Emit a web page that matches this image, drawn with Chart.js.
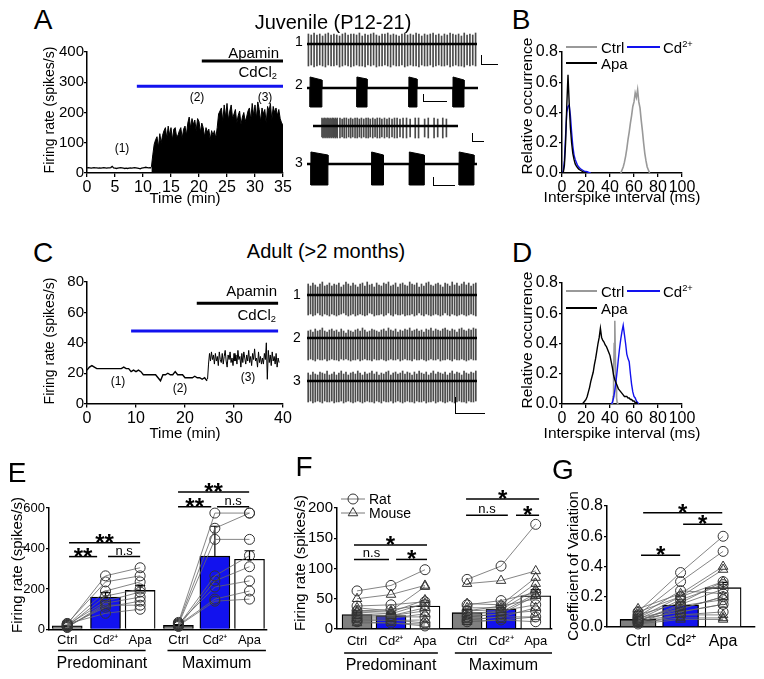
<!DOCTYPE html>
<html>
<head>
<meta charset="utf-8">
<title>Firing pattern after CdCl2 and apamin</title>
<script src="https://cdn.jsdelivr.net/npm/chart.js@4.4.1/dist/chart.umd.min.js"></script>
<style>
  body { margin: 0; background: #fff; }
  #fig { position: relative; width: 764px; height: 679px; overflow: hidden; font-family: "Liberation Sans", Arial, sans-serif; color: #000; }
  #fig canvas { position: absolute; }
  .t { position: absolute; white-space: nowrap; line-height: 1; }
  .t sub, .t sup { font-size: 0.62em; line-height: 0; }
  .t sub { vertical-align: -0.3em; }
  .t sup { vertical-align: 0.6em; }
  .sb { position: absolute; border-left: 1.5px solid #000; border-bottom: 1.5px solid #000; box-sizing: border-box; }
  .lg { position: absolute; height: 2px; }
</style>
</head>
<body>
<div id="fig"></div>
<script>
/* Juvenile vs adult firing: rate time courses, traces, ISI histograms, summary bars */

// ---- A: juvenile firing rate (spikes/s), 0.25 min bins
const aStep = 0.25;
const aBaseStart = 0;
const aBase = [
  17, 18, 17, 16, 17, 18, 17, 17, 16, 17,
  16, 17, 18, 17, 16, 17, 17, 18, 22, 17,
  16, 15, 16, 17, 18, 17, 16, 15, 16, 15,
  16, 17, 16, 17, 18, 17, 16, 15, 14, 16,
  17, 18, 19, 18, 17, 18, 17];
const aActStart = 11.5;
const aActive = [
  20, 60, 95, 110, 120, 85, 130, 100, 125, 140,
  150, 115, 155, 125, 150, 110, 145, 150, 120, 125,
  140, 150, 115, 145, 155, 125, 165, 185, 150, 180,
  160, 175, 140, 180, 170, 135, 165, 150, 120, 150,
  135, 145, 110, 140, 125, 140, 115, 150, 195, 205,
  215, 170, 225, 185, 230, 175, 205, 225, 180, 195,
  210, 165, 190, 205, 160, 185, 200, 170, 185, 205,
  215, 175, 230, 190, 225, 180, 235, 210, 170, 215,
  195, 210, 165, 220, 205, 230, 175, 220, 200, 215,
  190, 210, 180, 165, 160];
const aDrugs = [[20.5, 35, 370, '#000'], [8.9, 35, 287, '#1212ee']]; // [from, to, level, colour]

// ---- A: example traces (arbitrary mV around baseline)
const a1Top = [
  10, 9, 11, 9, 10, 8, 10, 11, 9, 10,
  9, 8, 10, 11, 9, 10, 10, 9, 11, 8,
  10, 9, 10, 11, 9, 8, 10, 10, 11, 9,
  10, 9, 8, 10, 11, 9, 10, 9, 11, 10,
  8, 10, 9, 10, 11, 9, 10, 8, 10, 9,
  11, 10, 9, 10, 8, 11, 9, 10, 9, 11];
const a1Bot = [
  -22, -21, -23, -22, -21, -22, -23, -21, -22, -22,
  -21, -23, -22, -21, -22, -23, -22, -21, -22, -22,
  -23, -21, -22, -21, -23, -22, -22, -21, -22, -23,
  -21, -22, -22, -21, -23, -22, -21, -22, -22, -23,
  -21, -22, -22, -21, -23, -22, -21, -22, -22, -21,
  -23, -22, -21, -22, -22, -23, -21, -22, -21, -22];
// bursts: [start, end, top at start, top at end, bottom] on a 0-100 time base
const a2Bursts = [[1.8, 8.7, 11, 8, -19], [29.2, 35.1, 11, 9, -19], [59.6, 64.3, 11, 9, -19], [85.4, 91.8, 11, 8, -19]];
const a3Bursts = [[2.3, 12.3, 12, 9, -21], [38, 45, 12, 9, -21], [60.2, 69, 12, 9, -21], [89.5, 98.2, 12, 9, -21]];
const expTimes = [
  6.2, 6.9, 7.6, 8.3, 9.0, 9.7, 10.4, 11.1, 11.8, 12.5, 13.2, 13.9, 14.6, 15.3, 16.0, 16.7,
  18.6, 20.1, 21.5, 23.0, 24.6, 26.0, 27.4, 29.0, 30.5, 32.0, 33.4, 35.0, 36.6, 38.1,
  39.5, 41.2, 42.8, 44.3, 46.0, 47.5, 49.3, 51.0, 52.6, 54.5, 56.2, 58.0, 60.0, 62.1,
  64.5, 67.0, 70.5, 72.8, 77.0, 79.5, 83.5, 86.0, 89.5, 92.0];
const expTop = [
  8, 7, 8, 8, 7, 8, 8, 7, 8, 7, 8, 8, 7, 8, 7, 8,
  8, 7, 8, 8, 7, 8, 7, 8, 8, 7, 8, 7, 8, 8, 7, 8, 7, 8, 8, 7, 8, 7, 8, 7, 8, 8, 7, 8,
  8, 7, 8, 8, 7, 8, 8, 7, 8, 7];
const expBot = [
  -11, -12, -11, -12, -11, -12, -11, -12, -11, -12, -11, -12, -11, -12, -11, -12,
  -12, -11, -12, -12, -11, -12, -11, -12, -12, -11, -12, -11, -12, -12, -11, -12, -11, -12, -12, -11, -12, -11, -12, -11, -12, -12, -11, -12,
  -12, -11, -12, -12, -11, -12, -12, -11, -12, -11];

// ---- B: juvenile ISI histograms (1 ms bins)
const bCtrlStart = 49;
const bCtrl = [0, 0.02, 0.04, 0.07, 0.11, 0.16, 0.22, 0.27, 0.33, 0.38, 0.44, 0.47, 0.53, 0.5, 0.55, 0.47, 0.43, 0.35, 0.28, 0.2, 0.13, 0.08, 0.04, 0.02, 0];
const bCdStart = 0;
const bCd = [0, 0.01, 0.08, 0.25, 0.4, 0.44, 0.45, 0.38, 0.27, 0.18, 0.12, 0.09, 0.07, 0.05, 0.04, 0.03, 0.025, 0.02, 0.015, 0.01, 0.01, 0.008, 0.005, 0.003, 0];
const bApaStart = 0;
const bApa = [0, 0, 0.05, 0.2, 0.45, 0.65, 0.46, 0.3, 0.2, 0.13, 0.09, 0.06, 0.045, 0.035, 0.025, 0.02, 0.015, 0.01, 0.006, 0.003, 0];

// ---- C: adult firing rate (spikes/s)
const cSlowStart = 0, cSlowStep = 0.5;
const cSlow = [
  22, 24, 25, 24, 23, 23, 23, 23, 23, 23,
  23, 23, 23, 23, 23, 24, 23, 23, 21, 22,
  21, 22, 21, 19, 19, 19, 19, 19, 19, 17,
  15, 19, 19, 20, 19, 19, 21, 19, 19, 19,
  17, 17, 17, 17, 18, 17, 17, 16, 17, 15];
const cFastStart = 24.6, cFastStep = 0.2;
const cFast = [
  16, 26, 33, 28, 34, 29, 32, 26, 33, 28,
  31, 25, 34, 29, 27, 33, 26, 31, 35, 28,
  24, 32, 29, 34, 27, 30, 25, 33, 28, 32,
  26, 35, 29, 31, 24, 33, 27, 34, 30, 26,
  32, 28, 35, 27, 31, 25, 33, 29, 36, 28,
  30, 24, 34, 27, 31, 26, 30, 26, 33, 29,
  40, 16, 35, 27, 32, 25, 34, 28, 31, 26,
  33, 24, 30, 27];
const cDrugs = [[22.4, 39, 66, '#000'], [9, 39, 47.8, '#1212ee']];

// ---- C: example traces
const c1Top = [
  11, 9, 12, 10, 8, 11, 13, 9, 10, 12, 9, 11, 10, 12, 8, 10, 13, 11, 9, 12,
  10, 8, 11, 12, 9, 13, 10, 11, 8, 12, 10, 9, 12, 11, 13, 9, 10, 12, 8, 11,
  12, 10, 9, 13, 11, 10, 12, 8, 11, 9, 12, 13, 10, 9, 11, 12, 10, 8, 12, 11,
  9, 13, 10, 12, 9, 11, 13, 10, 12, 9, 11, 12];
const c1Bot = [
  -20, -19, -21, -20, -18, -20, -21, -19, -20, -21, -19, -20, -21, -20, -19, -18, -20, -21, -20, -19,
  -21, -20, -19, -20, -21, -20, -18, -19, -21, -20, -20, -19, -21, -20, -18, -20, -21, -19, -20, -20,
  -19, -21, -20, -20, -19, -21, -20, -18, -20, -21, -19, -20, -21, -20, -19, -20, -21, -20, -18, -20,
  -21, -19, -20, -21, -20, -19, -20, -21, -20, -19, -20, -21];
const c2Top = [
  7, 8, 6, 9, 7, 8, 10, 7, 6, 8, 9, 7, 8, 6, 9, 7, 5, 8, 7, 6,
  8, 9, 7, 10, 8, 6, 7, 9, 8, 7, 6, 8, 9, 7, 10, 8, 7, 9, 6, 8,
  7, 9, 8, 10, 7, 8, 9, 7, 8, 6, 9, 8, 10, 7, 9, 8, 7, 9, 10, 8,
  7, 9, 8, 6, 9, 10, 8, 7, 9, 8, 10, 9];
const c2Bot = [
  -22, -21, -22, -23, -21, -22, -22, -21, -23, -22, -21, -22, -22, -23, -21, -22, -21, -22, -23, -22,
  -22, -21, -23, -22, -21, -22, -22, -23, -21, -22, -22, -21, -22, -23, -22, -21, -22, -22, -21, -23,
  -22, -21, -22, -22, -23, -21, -22, -22, -21, -22, -23, -22, -21, -22, -22, -21, -23, -22, -22, -21,
  -22, -23, -21, -22, -22, -21, -22, -23, -22, -21, -22, -22];
const c3Top = [
  8, 6, 9, 7, 6, 9, 8, 7, 10, 6, 7, 9, 6, 8, 10, 7, 9, 6, 8, 9,
  7, 10, 8, 6, 9, 7, 8, 10, 7, 9, 6, 8, 7, 9, 10, 6, 8, 9, 7, 8,
  10, 7, 9, 8, 6, 9, 7, 10, 8, 7, 9, 6, 8, 10, 7, 9, 8, 7, 9, 6,
  8, 10, 7, 9, 8, 6, 10, 8, 7, 9, 8, 10];
const c3Bot = [
  -21, -20, -22, -21, -20, -21, -22, -20, -21, -21, -20, -22, -21, -21, -20, -22, -21, -20, -21, -22,
  -21, -20, -21, -22, -21, -20, -21, -21, -22, -20, -21, -22, -20, -21, -21, -20, -22, -21, -20, -21,
  -22, -21, -20, -21, -21, -22, -20, -21, -21, -20, -22, -21, -21, -20, -22, -21, -20, -21, -22, -21,
  -20, -21, -22, -21, -20, -21, -21, -22, -20, -21, -21, -20];

// ---- D: adult ISI histograms
const dCtrlStart = 42, dCtrlStep = 0.5;
const dCtrl = [0, 0.05, 0.2, 0.4, 0.55, 0.3, 0.12, 0.04, 0.01, 0];
const dCdStart = 41;
const dCd = [0, 0.01, 0.04, 0.09, 0.15, 0.22, 0.3, 0.37, 0.43, 0.48, 0.52, 0.46, 0.4, 0.33, 0.3, 0.28, 0.2, 0.13, 0.08, 0.05, 0.04, 0.02, 0.01, 0];
const dApaStart = 17;
const dApa = [
  0, 0.01, 0.02, 0.03, 0.05, 0.08, 0.11, 0.15, 0.18, 0.21, 0.26, 0.3, 0.35, 0.4, 0.44, 0.5,
  0.44, 0.42, 0.41, 0.39, 0.38, 0.36, 0.34, 0.32, 0.28, 0.24, 0.19, 0.16, 0.14, 0.12, 0.1,
  0.09, 0.08, 0.07, 0.06, 0.05, 0.05, 0.05, 0.04, 0.04, 0.03, 0.03, 0.02, 0.02, 0.01, 0.01, 0];

// ---- E: juvenile firing rate summary
const eLabels = ['Ctrl', 'Cd²⁺', 'Apa', 'Ctrl', 'Cd²⁺', 'Apa'];
const ePos = [1, 2.05, 3, 4.05, 5.05, 6];
const eMeans = [18, 160, 193, 20, 362, 347];
const eSem = [3, 22, 24, 4, 148, 42];
const ePredCtrl = [25, 30, 20, 15, 22, 10, 18, 28, 12];
const ePredCd = [265, 235, 190, 165, 140, 130, 110, 80, 120];
const ePredApa = [305, 265, 235, 200, 185, 160, 140, 100, 120];
const eMaxCtrl = [35, 30, 25, 20, 15, 28, 22, 18];
const eMaxCd = [575, 500, 445, 265, 240, 210, 150, 140];
const eMaxApa = [575, 575, 445, 365, 310, 240, 190, 150];

// ---- F: adult firing rate summary (rat = circles, mouse = triangles)
const fPos = [1, 2, 3, 4.24, 5.24, 6.26];
const fMeans = [24, 22, 38, 27, 33, 55];
const fSem = [4, 4, 6, 5, 6, 10];
const fPredRatCtrl = [63, 38, 30, 25, 20, 15, 12];
const fPredRatCd = [72, 40, 32, 22, 20, 15, 10];
const fPredRatApa = [98, 45, 40, 30, 20, 10, 5];
const fPredMouCtrl = [50, 35, 30, 28, 22, 18, 15, 10];
const fPredMouCd = [57, 30, 28, 25, 22, 18, 14, 10];
const fPredMouApa = [72, 70, 48, 42, 35, 25, 15, 8];
const fMaxRatCtrl = [82, 40, 30, 25, 20, 15, 12];
const fMaxRatCd = [104, 47, 38, 30, 25, 20, 15];
const fMaxRatApa = [173, 60, 50, 40, 30, 20, 12];
const fMaxMouCtrl = [75, 42, 35, 30, 25, 20, 15, 12];
const fMaxMouCd = [80, 40, 35, 32, 28, 25, 20, 15];
const fMaxMouApa = [96, 85, 75, 65, 58, 55, 35, 20];

// ---- G: coefficient of variation
const gLabels = ['Ctrl', 'Cd²⁺', 'Apa'];
const gPos = [1, 2, 3];
const gMeans = [0.05, 0.145, 0.26];
const gSem = [0.008, 0.02, 0.035];
const gRatCtrl = [0.10, 0.08, 0.06, 0.05, 0.04, 0.03, 0.05, 0.02, 0.07, 0.04];
const gRatCd = [0.36, 0.30, 0.20, 0.18, 0.15, 0.12, 0.10, 0.08, 0.24, 0.14];
const gRatApa = [0.60, 0.50, 0.30, 0.28, 0.25, 0.20, 0.15, 0.10, 0.22, 0.18];
const gMouCtrl = [0.12, 0.10, 0.08, 0.06, 0.05, 0.04, 0.03, 0.02];
const gMouCd = [0.22, 0.20, 0.16, 0.12, 0.10, 0.08, 0.06, 0.05];
const gMouApa = [0.40, 0.38, 0.30, 0.20, 0.15, 0.08, 0.06, 0.05];

const FONT = '"Liberation Sans", Arial, sans-serif';
const BLUE = '#1212ee', GRAY = '#808080', SPIKE = '#4a4a4a';
const fig = document.getElementById('fig');

Chart.defaults.font.family = FONT;
Chart.defaults.color = '#000';
Chart.defaults.animation = false;
Chart.defaults.events = [];
Chart.defaults.plugins.legend.display = false;
Chart.defaults.plugins.tooltip.enabled = false;

const series = (start, step, vals) => vals.map((v, i) => ({ x: start + i * step, y: v }));

// box = canvas rect on the page, area = wanted plot rect
function mount(box, cfg, area, bare) {
  const [x0, y0, x1, y1] = box;
  const cv = document.createElement('canvas');
  cv.width = x1 - x0; cv.height = y1 - y0;
  Object.assign(cv.style, { left: x0 + 'px', top: y0 + 'px', width: (x1 - x0) + 'px', height: (y1 - y0) + 'px' });
  fig.appendChild(cv);
  const o = cfg.options;
  o.responsive = false;
  o.layout = { autoPadding: false, padding: { left: bare ? area[0] - x0 : 0, top: area[1] - y0, right: x1 - area[2], bottom: bare ? y1 - area[3] : 0 } };
  if (!bare) {
    o.scales.x.afterFit = s => { s.height = y1 - area[3]; s.paddingLeft = 0; s.paddingRight = 0; };
    o.scales.y.afterFit = s => { s.width = area[0] - x0; s.paddingTop = 0; s.paddingBottom = 0; };
  }
  return new Chart(cv, cfg);
}

function axis(min, max, step, opt) {
  opt = opt || {};
  return {
    type: 'linear', min, max, offset: false,
    ticks: { stepSize: step, autoSkip: false, maxRotation: 0, padding: opt.pad === undefined ? 1 : opt.pad, color: '#000', font: { size: opt.size || 16 },
      display: opt.ticks !== false, callback: opt.fmt || (v => v) },
    grid: { display: opt.grid !== false, drawOnChartArea: false, tickLength: opt.tick || 4, color: '#000', lineWidth: 1.3, offset: false },
    border: { display: true, color: '#000', width: 1.5 },
    title: { display: false }
  };
}

const flat = (data, color, width, extra) => Object.assign({ data, borderColor: color, borderWidth: width, pointRadius: 0, tension: 0 }, extra || {});
const dec1 = v => v.toFixed(1);

// ---------- A
mount([52, 38, 292, 206], {
  type: 'line',
  data: { datasets: [
    flat(series(aBaseStart, aStep, aBase), '#000', 1.3),
    flat(series(aActStart, aStep, aActive), '#000', 1, { fill: 'origin', backgroundColor: '#000' }),
    ...aDrugs.map(d => flat([{ x: d[0], y: d[2] }, { x: d[1], y: d[2] }], d[3], 3))
  ] },
  options: { scales: { x: axis(0, 35, 5), y: axis(0, 400, 100, { size: 15, tick: 3, pad: 0 }) } }
}, [87, 52, 283, 173]);

// ---------- C
mount([52, 268, 292, 441], {
  type: 'line',
  data: { datasets: [
    flat(series(cSlowStart, cSlowStep, cSlow), '#000', 1.4),
    flat(series(cFastStart, cFastStep, cFast), '#000', 1),
    ...cDrugs.map(d => flat([{ x: d[0], y: d[2] }, { x: d[1], y: d[2] }], d[3], 3))
  ] },
  options: { scales: { x: axis(0, 40, 10), y: axis(0, 80, 20, { size: 15, tick: 3, pad: 0 }) } }
}, [87, 282, 283, 403.6]);

// ---------- B and D
function isiChart(box, area, ctrl, cd, apa) {
  return mount(box, {
    type: 'line',
    data: { datasets: [flat(apa, '#000', 1.4, { order: 1 }), flat(cd, BLUE, 1.4, { order: 2 }), flat(ctrl, '#999', 1.6, { order: 3 })] },
    options: { scales: { x: axis(0, 100, 20), y: axis(0, 0.8, 0.2, { fmt: dec1, tick: 3, pad: 1 }) } }
  }, area);
}
isiChart([530, 38, 704, 206], [562, 52, 682, 173], series(bCtrlStart, 1, bCtrl), series(bCdStart, 1, bCd), series(bApaStart, 1, bApa));
isiChart([530, 269, 704, 442], [562, 283, 682, 404], series(dCtrlStart, dCtrlStep, dCtrl), series(dCdStart, 1, dCd), series(dApaStart, 1, dApa));

// ---------- traces
function spikeTrace(area, tops, bots, times, xMax, yMin, yMax) {
  const n = tops.length;
  const xs = times || tops.map((_, i) => i);
  const lo = times ? 0 : -0.5, hi = times ? xMax : n - 0.5;
  return mount(area, {
    type: 'bar',
    data: { datasets: [
      { type: 'bar', data: tops.map((t, i) => ({ x: xs[i], y: [bots[i], t] })), backgroundColor: SPIKE, barThickness: 1, borderWidth: 0, order: 2 },
      { type: 'line', data: [{ x: lo, y: 0 }, { x: hi, y: 0 }], borderColor: '#000', borderWidth: 2.6, pointRadius: 0, order: 1 }
    ] },
    options: { scales: { x: { type: 'linear', display: false, min: lo, max: hi, offset: false }, y: { display: false, min: yMin, max: yMax } } }
  }, area, true);
}

function burstTrace(area, bursts, yMin, yMax) {
  const up = [], down = [];
  bursts.forEach(([s, e, t0, t1, b]) => {
    up.push({ x: s, y: 0 }, { x: s, y: t0 }, { x: e, y: t1 }, { x: e, y: 0 });
    down.push({ x: s, y: 0 }, { x: s, y: b }, { x: e, y: b }, { x: e, y: 0 });
  });
  return mount(area, {
    type: 'line',
    data: { datasets: [
      flat(up, '#000', 1, { fill: 'origin', backgroundColor: '#000' }),
      flat(down, '#000', 1, { fill: 'origin', backgroundColor: '#000' }),
      flat([{ x: 0, y: 0 }, { x: 100, y: 0 }], '#000', 2.6)
    ] },
    options: { scales: { x: { type: 'linear', display: false, min: 0, max: 100 }, y: { display: false, min: yMin, max: yMax } } }
  }, area, true);
}

spikeTrace([307, 29, 477, 69], a1Top, a1Bot, null, 0, -25, 15);
burstTrace([307, 73, 478, 113], a2Bursts, -25, 15);
spikeTrace([313, 116, 458, 141], expTop, expBot, expTimes, 100, -15, 10);
burstTrace([307, 149, 477, 189], a3Bursts, -25, 15);
spikeTrace([307, 280, 477, 320], c1Top, c1Bot, null, 0, -25, 15);
spikeTrace([307, 323, 477, 363], c2Top, c2Bot, null, 0, -25, 15);
spikeTrace([307, 366, 477, 406], c3Top, c3Bot, null, 0, -25, 15);

// ---------- bar panels
const decor = {
  id: 'decor',
  afterDatasetDraw(chart, args, o) {
    if (args.index !== 0 || !o.sem) return;
    const xs = chart.scales.x, ys = chart.scales.y, ctx = chart.ctx;
    ctx.save();
    ctx.strokeStyle = '#000'; ctx.lineWidth = 1.2;
    o.sem.forEach((s, i) => {
      const px = xs.getPixelForValue(o.pos[i]);
      const yb = ys.getPixelForValue(o.means[i]), yt = ys.getPixelForValue(o.means[i] + s);
      ctx.beginPath();
      ctx.moveTo(px, yb); ctx.lineTo(px, yt);
      ctx.moveTo(px - 5, yt); ctx.lineTo(px + 5, yt);
      ctx.stroke();
    });
    ctx.restore();
  },
  afterDraw(chart, args, o) {
    const xs = chart.scales.x, ys = chart.scales.y, ctx = chart.ctx, area = chart.chartArea;
    ctx.save();
    ctx.fillStyle = '#000'; ctx.strokeStyle = '#000'; ctx.textAlign = 'center';
    (o.sig || []).forEach(([a, b, y, t]) => {
      const xa = xs.getPixelForValue(a), xb = xs.getPixelForValue(b), py = ys.getPixelForValue(y);
      ctx.lineWidth = 1.5;
      ctx.beginPath(); ctx.moveTo(xa, py); ctx.lineTo(xb, py); ctx.stroke();
      ctx.textBaseline = 'alphabetic';
      if (t === 'n.s') { ctx.font = '13px ' + FONT; ctx.fillText(t, (xa + xb) / 2, py - 2); }
      else { ctx.font = 'bold 24px ' + FONT; ctx.fillText(t, (xa + xb) / 2, py + 8); }
    });
    ctx.textBaseline = 'middle';
    ctx.font = o.labelFont;
    o.labels.forEach((t, i) => ctx.fillText(t, xs.getPixelForValue(o.pos[i]), area.bottom + o.labelDy));
    (o.groups || []).forEach(([a, b, t]) => {
      const xa = xs.getPixelForValue(a), xb = xs.getPixelForValue(b), py = area.bottom + o.groupDy;
      ctx.lineWidth = 1.5;
      ctx.beginPath(); ctx.moveTo(xa, py); ctx.lineTo(xb, py); ctx.stroke();
      ctx.font = '16px ' + FONT;
      ctx.fillText(t, (xa + xb) / 2, py + 13);
    });
    if (o.legend) {
      o.legend.forEach(([style, text], i) => {
        const cx = area.left + 16, cy = area.top - 9 + i * 14;
        ctx.strokeStyle = '#555'; ctx.lineWidth = 0.8;
        ctx.beginPath(); ctx.moveTo(cx - 12, cy); ctx.lineTo(cx + 12, cy); ctx.stroke();
        ctx.strokeStyle = '#333'; ctx.lineWidth = 1; ctx.fillStyle = 'rgba(255,255,255,0)';
        Chart.helpers.drawPoint(ctx, { pointStyle: style, radius: style === 'triangle' ? 5.5 : 5, borderWidth: 1 }, cx, cy);
        ctx.fillStyle = '#000'; ctx.textAlign = 'left'; ctx.font = '14px ' + FONT;
        ctx.fillText(text, cx + 16, cy + 1);
      });
    }
    ctx.restore();
  }
};

function subjects(pos, cols, style) {
  return cols[0].map((_, i) => ({
    type: 'line',
    data: cols.map((c, j) => ({ x: pos[j], y: c[i] })),
    borderColor: '#666', borderWidth: 0.8, tension: 0,
    pointStyle: style, pointRadius: style === 'triangle' ? 5.5 : 5,
    pointBorderColor: '#333', pointBorderWidth: 1, pointBackgroundColor: 'rgba(255,255,255,0)',
    order: 1, clip: false
  }));
}

function barPanel(box, area, p) {
  const bars = { type: 'bar', data: p.pos.map((x, i) => ({ x, y: p.means[i] })), backgroundColor: p.fills,
    borderColor: '#000', borderWidth: 1.3, barThickness: p.barW, order: 3 };
  return mount(box, {
    type: 'bar',
    data: { datasets: [bars, ...p.sets] },
    options: {
      scales: { x: axis(p.xr[0], p.xr[1], 1, { ticks: false, grid: false }), y: axis(p.yr[0], p.yr[1], p.yr[2], { size: p.tick, fmt: p.fmt, tick: 3, pad: 1 }) },
      plugins: { decor: { pos: p.pos, means: p.means, sem: p.sem, sig: p.sig, labels: p.labels, labelFont: p.labelFont, labelDy: p.labelDy, groups: p.groups, groupDy: p.groupDy, legend: p.legend } }
    },
    plugins: [decor]
  }, area);
}

barPanel([14, 466, 276, 679], [49, 508, 267, 629.5], {
  pos: ePos, means: eMeans, sem: eSem, fills: [GRAY, BLUE, '#fff', GRAY, BLUE, '#fff'], barW: 30,
  sets: [...subjects(ePos.slice(0, 3), [ePredCtrl, ePredCd, ePredApa], 'circle'), ...subjects(ePos.slice(3), [eMaxCtrl, eMaxCd, eMaxApa], 'circle')],
  xr: [0.5, 6.48], yr: [0, 600, 200], tick: 13,
  sig: [[1.05, 1.82, 360, '**'], [2.12, 3.0, 360, 'n.s'], [1.05, 3.0, 429, '**'], [4.04, 4.95, 606, '**'], [5.11, 5.99, 606, 'n.s'], [4.04, 5.99, 679, '**']],
  labels: eLabels, labelFont: '13px ' + FONT, labelDy: 11, groups: [[0.75, 3.15, 'Predominant'], [3.75, 6.45, 'Maximum']], groupDy: 21
});

barPanel([300, 466, 561, 679], [337, 508, 552, 629], {
  pos: fPos, means: fMeans, sem: fSem, fills: [GRAY, BLUE, '#fff', GRAY, BLUE, '#fff'], barW: 30,
  sets: [
    ...subjects(fPos.slice(0, 3), [fPredRatCtrl, fPredRatCd, fPredRatApa], 'circle'),
    ...subjects(fPos.slice(0, 3), [fPredMouCtrl, fPredMouCd, fPredMouApa], 'triangle'),
    ...subjects(fPos.slice(3), [fMaxRatCtrl, fMaxRatCd, fMaxRatApa], 'circle'),
    ...subjects(fPos.slice(3), [fMaxMouCtrl, fMaxMouCd, fMaxMouApa], 'triangle')
  ],
  xr: [0.41, 6.74], yr: [0, 200, 50], tick: 15,
  sig: [[0.91, 1.94, 115, 'n.s'], [2.15, 3.06, 115, '*'], [0.91, 3.06, 139, '*'], [4.21, 5.44, 188, 'n.s'], [5.68, 6.36, 188, '*'], [4.21, 6.36, 215, '*']],
  labels: eLabels, labelFont: '13px ' + FONT, labelDy: 12, groups: [[0.62, 3.38, 'Predominant'], [3.88, 6.74, 'Maximum']], groupDy: 24,
  legend: [['circle', 'Rat'], ['triangle', 'Mouse']]
});

barPanel([570, 466, 764, 679], [607, 506, 755, 627], {
  pos: gPos, means: gMeans, sem: gSem, fills: [GRAY, BLUE, '#fff'], barW: 36,
  sets: [...subjects(gPos, [gRatCtrl, gRatCd, gRatApa], 'circle'), ...subjects(gPos, [gMouCtrl, gMouCd, gMouApa], 'triangle')],
  xr: [0.27, 3.75], yr: [0, 0.8, 0.2], tick: 16, fmt: dec1,
  sig: [[1.07, 1.99, 0.475, '*'], [2.06, 2.98, 0.68, '*'], [1.12, 2.98, 0.755, '*']],
  labels: gLabels, labelFont: '16px ' + FONT, labelDy: 15
});

// ---------- text, axis titles, legends and scale bars
function txt(html, x, y, size, align, rot) {
  const d = document.createElement('div');
  d.className = 't';
  d.innerHTML = html;
  d.style.left = x + 'px'; d.style.top = y + 'px'; d.style.fontSize = size + 'px';
  const shift = align === 'r' ? 'translate(-100%,-50%)' : align === 'l' ? 'translate(0,-50%)' : 'translate(-50%,-50%)';
  d.style.transform = shift + (rot ? ' rotate(-90deg)' : '');
  fig.appendChild(d);
}
function seg(x, y, w, color) {
  const d = document.createElement('div');
  d.className = 'lg';
  Object.assign(d.style, { left: x + 'px', top: (y - 1) + 'px', width: w + 'px', background: color });
  fig.appendChild(d);
}
function scaleBar(x, y, w, h) {
  const d = document.createElement('div');
  d.className = 'sb';
  Object.assign(d.style, { left: x + 'px', top: y + 'px', width: w + 'px', height: h + 'px' });
  fig.appendChild(d);
}

[['A', 43, 20], ['B', 521, 20], ['C', 43, 253], ['D', 522, 253], ['E', 17, 473], ['F', 304, 467], ['G', 563, 470]]
  .forEach(([l, x, y]) => txt(l, x, y, 28));
txt('Juvenile (P12-21)', 333, 22, 20);
txt('Adult (&gt;2 months)', 326, 251, 20);

// axis titles
txt('Firing rate (spikes/s)', 49, 110, 14, 'c', true);
txt('Time (min)', 185, 197, 15);
txt('Relative occurrence', 527, 106, 15.5, 'c', true);
txt('Interspike interval (ms)', 622, 197, 15.5);
txt('Firing rate (spikes/s)', 49, 341, 14, 'c', true);
txt('Time (min)', 185, 432, 15);
txt('Relative occurrence', 527, 340, 15.5, 'c', true);
txt('Interspike interval (ms)', 622, 433, 15.5);
txt('Firing rate (spikes/s)', 16, 565, 15, 'c', true);
txt('Firing rate (spikes/s)', 299, 563, 15, 'c', true);
txt('Coefficient of Variation', 572, 566, 15, 'c', true);

txt('Apamin', 279, 52, 15, 'r');
txt('CdCl<sub>2</sub>', 277, 71, 15, 'r');
txt('(1)', 122, 148, 12); txt('(2)', 197, 97, 12); txt('(3)', 265, 97, 12);
txt('Apamin', 277, 290, 15, 'r');
txt('CdCl<sub>2</sub>', 276, 314, 15, 'r');
txt('(1)', 118, 381, 12); txt('(2)', 180, 388, 12); txt('(3)', 248, 377, 12);

txt('1', 299, 41, 14); txt('2', 299, 84, 14); txt('3', 299, 162, 14);
txt('1', 297, 294, 14); txt('2', 297, 337, 14); txt('3', 297, 380, 14);

[[47, 63], [291, 308]].forEach(([y1, y2]) => {
  seg(566, y1, 31, '#999'); txt('Ctrl', 601, y1, 15, 'l');
  seg(627, y1, 33, BLUE); txt('Cd<sup>2+</sup>', 663, y1, 15, 'l');
  seg(566, y2, 31, '#000'); txt('Apa', 601, y2, 15, 'l');
});

scaleBar(481, 55, 17, 10);
scaleBar(423, 94, 24, 8);
scaleBar(472, 133, 12, 9);
scaleBar(433, 177, 22, 9);
scaleBar(455, 397, 30, 17);
</script>
</body>
</html>
